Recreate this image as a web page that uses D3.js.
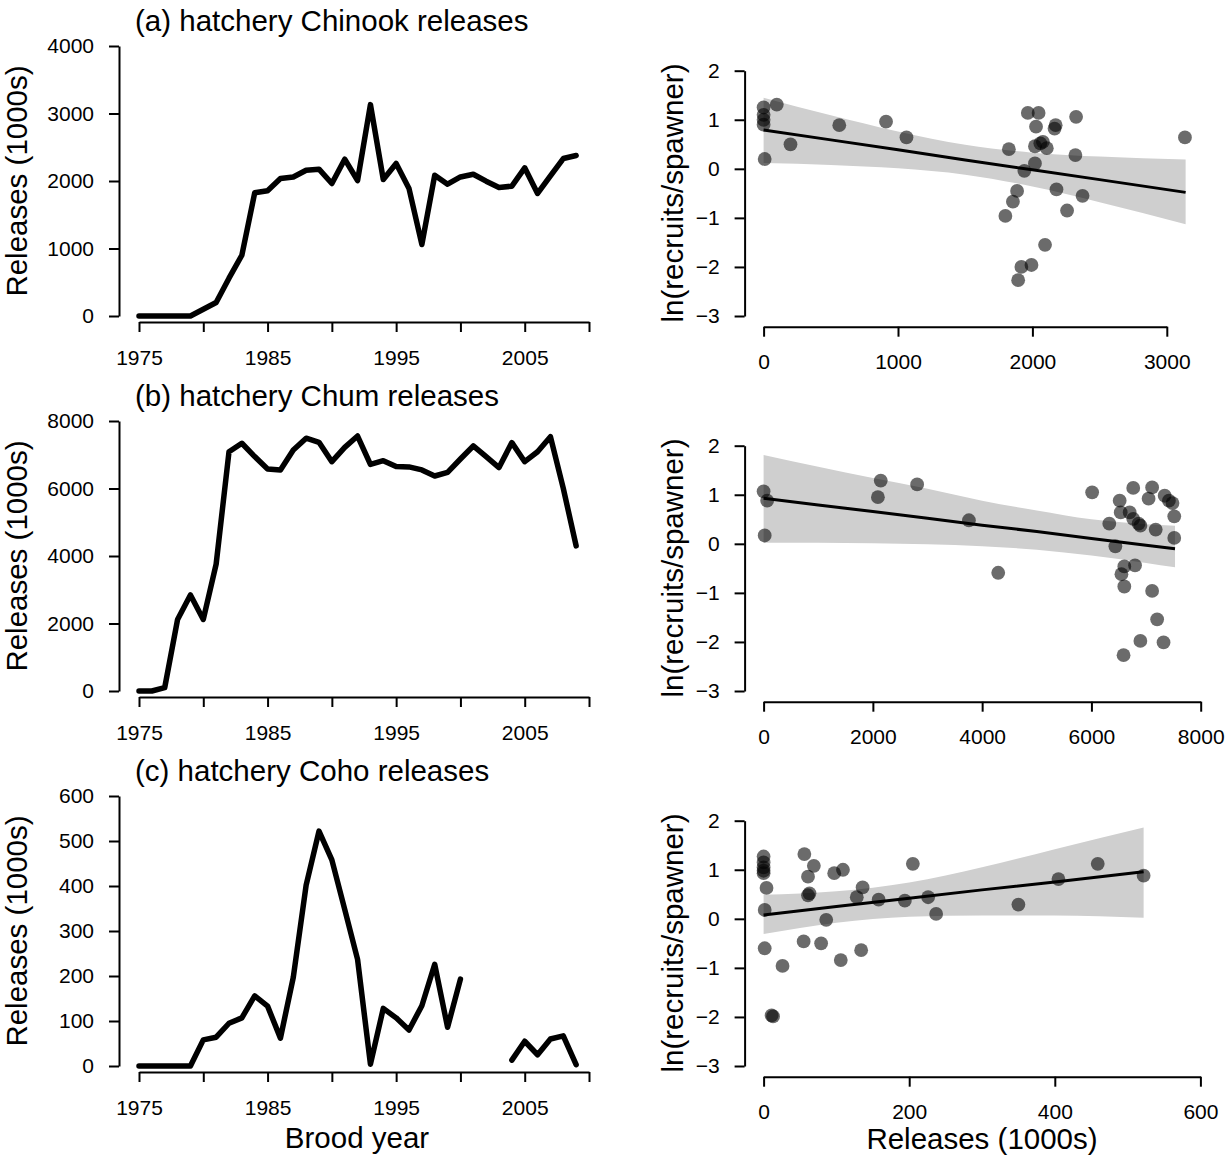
<!DOCTYPE html>
<html>
<head>
<meta charset="utf-8">
<script src="https://cdn.jsdelivr.net/npm/d3@7"></script>
<style>
  body { margin: 0; background: #fff; }
  svg text { font-family: "Liberation Sans", Arial, Helvetica, sans-serif; fill: #000; }
</style>
</head>
<body>
<svg id="chart" width="1231" height="1155"></svg>
<script>
// ---- data ----
const years = [1975,1976,1977,1978,1979,1980,1981,1982,1983,1984,1985,1986,1987,1988,1989,1990,1991,
  1992,1993,1994,1995,1996,1997,1998,1999,2000,2001,2002,2003,2004,2005,2006,2007,2008,2009];

const chinookReleases = [0,0,0,0,0,100,200,560,900,1825,1855,2037,2060,2160,2175,1963,2323,2007,3132,
  2022,2259,1889,1060,2086,1953,2060,2100,1997,1904,1923,2195,1815,2076,2333,2377];
const chumReleases = [0,0,100,2120,2845,2120,3760,7090,7340,6945,6580,6550,7140,7490,7370,6795,7220,7555,
  6715,6825,6650,6640,6550,6370,6480,6875,7260,6945,6620,7360,6795,7090,7535,6005,4300];
const cohoReleases = [0,0,0,0,0,58,64,95,107,156,133,62,197,402,522,458,348,237,4,128,107,80,134,226,86,193,
  null,null,null,13,55,25,60,67,3];

// releases vs ln(recruits/spawner)
const chinookX = [0,0,0,0,8,98,200,563,911,1063,1825,1799,1855,1886,1894,1918,1940,1966,1993,2019,
  2027,2046,2019,2059,2078,2107,2094,2173,2165,2179,2258,2320,2325,2373,3135];
const chinookY = [1.25,1.10,1.00,0.90,0.20,1.31,0.50,0.89,0.96,0.64,0.40,-0.96,-0.67,-0.45,-2.27,-2.00,-0.04,
  1.14,-1.96,0.11,0.86,1.14,0.46,0.52,0.55,0.42,-1.55,0.89,0.82,-0.42,-0.85,0.28,1.06,-0.55,0.64];
const chumX = [0,65,20,2092,2144,2810,3758,4294,6013,6327,6438,6517,6536,6549,6602,6602,6588,6700,6765,6765,
  6798,6863,6896,6896,7046,7111,7111,7176,7203,7320,7340,7418,7484,7516,7516];
const chumY = [1.07,0.88,0.17,0.95,1.29,1.21,0.48,-0.59,1.05,0.41,-0.05,0.88,0.64,-0.62,-0.46,-0.87,-2.27,
  0.64,1.14,0.51,-0.44,0.41,0.37,-1.98,0.92,1.15,-0.96,0.29,-1.54,-2.01,0.98,0.88,0.83,0.56,0.12];
const cohoX = [0,0,0,0,0,4,1.5,1.5,11,13,26,56,55,61,69,63,61,79,86,97,109,106,128,136,134,158,194,205,226,237,
  350,405,459,522];
const cohoY = [1.27,1.15,1.05,0.98,0.93,0.63,0.18,-0.60,-1.97,-1.99,-0.96,1.32,-0.46,0.86,1.08,0.52,0.48,-0.50,
  -0.02,0.93,1.00,-0.84,0.44,0.64,-0.64,0.39,0.37,1.12,0.44,0.10,0.29,0.81,1.12,0.88];

// fitted line and its band, read at a few release values
const chinookFitX = [0,500,1000,1500,2000,2500,3140];
const chinookFit = [0.79,0.59,0.39,0.18,-0.02,-0.22,-0.48];
const chinookLo = [0.12,0.08,0.01,-0.12,-0.36,-0.68,-1.13];
const chinookHi = [1.45,1.09,0.76,0.49,0.33,0.25,0.19];
const chumFitX = [0,1000,2000,3000,4000,5000,6000,7000,7530];
const chumFit = [0.93,0.79,0.66,0.52,0.38,0.25,0.11,-0.03,-0.10];
const chumLo = [0.02,0.02,0.01,-0.01,-0.05,-0.12,-0.24,-0.39,-0.48];
const chumHi = [1.81,1.57,1.34,1.12,0.88,0.68,0.50,0.40,0.37];
const cohoFitX = [0,100,200,300,400,522];
const cohoFit = [0.08,0.25,0.42,0.59,0.75,0.96];
const cohoLo = [-0.31,-0.08,0.04,0.07,0.07,0.02];
const cohoHi = [0.49,0.56,0.74,1.05,1.42,1.86];

// ticks
const yearTicks = [1975,1980,1985,1990,1995,2000,2005,2010];
const yearLabels = ["1975","","1985","","1995","","2005",""];
const lnTicks = [-3,-2,-1,0,1,2];
const lnLabels = ["\u22123","\u22122","\u22121","0","1","2"];

const titles = ["(a) hatchery Chinook releases", "(b) hatchery Chum releases", "(c) hatchery Coho releases"];

const panels = [
  { rel: chinookReleases, yMax: 4000, yTicks: [0,1000,2000,3000,4000],
    sx: chinookX, sy: chinookY, xTicks: [0,1000,2000,3000], xRight: 1166.8,
    fx: chinookFitX, fit: chinookFit, lo: chinookLo, hi: chinookHi },
  { rel: chumReleases, yMax: 8000, yTicks: [0,2000,4000,6000,8000],
    sx: chumX, sy: chumY, xTicks: [0,2000,4000,6000,8000], xRight: 1200.7,
    fx: chumFitX, fit: chumFit, lo: chumLo, hi: chumHi },
  { rel: cohoReleases, yMax: 600, yTicks: [0,100,200,300,400,500,600],
    sx: cohoX, sy: cohoY, xTicks: [0,200,400,600], xRight: 1200.4,
    fx: cohoFitX, fit: cohoFit, lo: cohoLo, hi: cohoHi }
];

// ---- drawing ----
const svg = d3.select("#chart");
const rowStep = 375;
const tickFont = 21, labelFont = 29.5;

// points in the original look a little soft
svg.append("defs").append("filter")
  .attr("id", "soft")
  .append("feGaussianBlur").attr("stdDeviation", 0.6);

function styleAxis(g) {
  g.selectAll("path.domain").attr("stroke", "#000").attr("stroke-width", 2);
  g.selectAll(".tick line").attr("stroke", "#000").attr("stroke-width", 2);
  g.selectAll(".tick text")
    .style("font-size", tickFont + "px")
    .style("font-family", '"Liberation Sans", Arial, sans-serif')
    .attr("fill", "#000");
}

panels.forEach((p, i) => {
  const dy = i * rowStep;

  // left: releases by brood year
  const x = d3.scaleLinear().domain([1975, 2010]).range([139, 589]);
  const y = d3.scaleLinear().domain([0, p.yMax]).range([316 + dy, 46 + dy]);

  svg.append("g")
    .attr("transform", `translate(0,${322 + dy})`)
    .call(d3.axisBottom(x).tickValues(yearTicks).tickSize(10).tickSizeOuter(0).tickPadding(18)
      .tickFormat((d, k) => yearLabels[k]))
    .call(styleAxis);

  svg.append("g")
    .attr("transform", "translate(119,0)")
    .call(d3.axisLeft(y).tickValues(p.yTicks).tickSize(10).tickSizeOuter(0).tickPadding(15)
      .tickFormat(d3.format("d")))
    .call(styleAxis);

  const rows = years.map((yr, k) => ({ yr, v: p.rel[k] }));
  svg.append("path")
    .datum(rows)
    .attr("fill", "none")
    .attr("stroke", "#000")
    .attr("stroke-width", 5.5)
    .attr("stroke-linejoin", "round")
    .attr("stroke-linecap", "round")
    .attr("d", d3.line()
      .defined(d => d.v !== null)
      .x(d => x(d.yr))
      .y(d => y(d.v)));

  svg.append("text")
    .attr("x", 135).attr("y", 31 + dy)
    .style("font-size", labelFont + "px")
    .text(titles[i]);

  svg.append("text")
    .attr("transform", `translate(27,${181 + dy}) rotate(-90)`)
    .attr("text-anchor", "middle")
    .style("font-size", labelFont + "px")
    .text("Releases (1000s)");

  // right: releases vs ln(recruits/spawner)
  const xs = d3.scaleLinear().domain([0, d3.max(p.xTicks)]).range([763.6, p.xRight]);
  const ys = d3.scaleLinear().domain([-3, 2]).range([316 + dy, 70.7 + dy]);

  svg.append("g")
    .attr("transform", `translate(0,${326.7 + dy})`)
    .call(d3.axisBottom(xs).tickValues(p.xTicks).tickSize(10).tickSizeOuter(0).tickPadding(17)
      .tickFormat(d3.format("d")))
    .call(styleAxis);

  svg.append("g")
    .attr("transform", "translate(744.6,0)")
    .call(d3.axisLeft(ys).tickValues(lnTicks).tickSize(10).tickSizeOuter(0).tickPadding(15)
      .tickFormat((d, k) => lnLabels[k]))
    .call(styleAxis);

  const band = p.fx.map((v, k) => ({ x: v, lo: p.lo[k], hi: p.hi[k], m: p.fit[k] }));
  svg.append("path")
    .datum(band)
    .attr("fill", "#cfcfcf")
    .attr("d", d3.area()
      .curve(d3.curveMonotoneX)
      .x(d => xs(d.x))
      .y0(d => ys(d.lo))
      .y1(d => ys(d.hi)));

  svg.append("g")
    .attr("filter", "url(#soft)")
    .selectAll("circle")
    .data(p.sx.map((v, k) => ({ x: v, y: p.sy[k] })))
    .join("circle")
    .attr("cx", d => xs(d.x))
    .attr("cy", d => ys(d.y))
    .attr("r", 6.9)
    .attr("fill", "#000")
    .attr("fill-opacity", 0.58);

  svg.append("path")
    .datum(band)
    .attr("fill", "none")
    .attr("stroke", "#000")
    .attr("stroke-width", 3)
    .attr("d", d3.line()
      .x(d => xs(d.x))
      .y(d => ys(d.m)));

  svg.append("text")
    .attr("transform", `translate(683,${193 + dy}) rotate(-90)`)
    .attr("text-anchor", "middle")
    .style("font-size", labelFont + "px")
    .text("ln(recruits/spawner)");
});

svg.append("text")
  .attr("x", 357).attr("y", 1148)
  .attr("text-anchor", "middle")
  .style("font-size", labelFont + "px")
  .text("Brood year");

svg.append("text")
  .attr("x", 982).attr("y", 1149)
  .attr("text-anchor", "middle")
  .style("font-size", labelFont + "px")
  .text("Releases (1000s)");
</script>
</body>
</html>
